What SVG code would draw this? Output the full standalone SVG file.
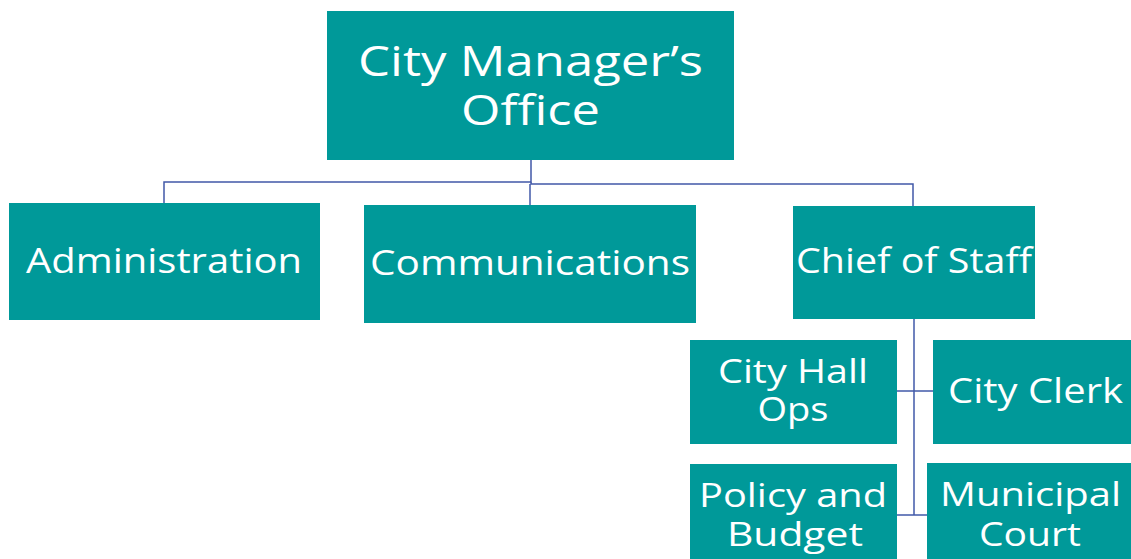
<svg xmlns="http://www.w3.org/2000/svg" width="1131" height="559" viewBox="0 0 1131 559">
<style>
.box{fill:#009999}
.t{fill:#ffffff;font-family:"Open Sans","Noto Sans","DejaVu Sans",sans-serif;font-size:35px;text-anchor:middle}
.s{font-size:33px}
.big{font-size:42px}
.c{fill:none;stroke:#4158a8;stroke-width:1.5}
</style>
<rect width="1131" height="559" fill="#ffffff"/>
<g id="connectors">
<polyline class="c" points="531,160 531,182 164,182 164,203"/>
<polyline class="c" points="531,182 531,184 913,184 913,206"/>
<line class="c" x1="530" y1="184" x2="530" y2="205"/>
<line class="c" x1="914" y1="319" x2="914" y2="515"/>
<line class="c" x1="897" y1="391" x2="933" y2="391"/>
<line class="c" x1="897" y1="515" x2="927" y2="515"/>
</g>
<g id="city-manager">
<rect class="box" x="327" y="11" width="407" height="149"/>
<text class="t big" x="530.5" y="76" textLength="345" lengthAdjust="spacingAndGlyphs">City Manager’s</text>
<text class="t big" x="530.5" y="125" textLength="139" lengthAdjust="spacingAndGlyphs">Office</text>
</g>
<g id="administration">
<rect class="box" x="9" y="203" width="311" height="117"/>
<text class="t" x="164" y="273" textLength="276" lengthAdjust="spacingAndGlyphs">Administration</text>
</g>
<g id="communications">
<rect class="box" x="364" y="205" width="332" height="118"/>
<text class="t" x="530" y="275" textLength="320" lengthAdjust="spacingAndGlyphs">Communications</text>
</g>
<g id="chief-of-staff">
<rect class="box" x="793" y="206" width="242" height="113"/>
<text class="t" x="914" y="273" textLength="236" lengthAdjust="spacingAndGlyphs">Chief of Staff</text>
</g>
<g id="city-hall-ops">
<rect class="box" x="690" y="340" width="207" height="104"/>
<text class="t s" x="793" y="383" textLength="150" lengthAdjust="spacingAndGlyphs">City Hall</text>
<text class="t s" x="793" y="421" textLength="71" lengthAdjust="spacingAndGlyphs">Ops</text>
</g>
<g id="city-clerk">
<rect class="box" x="933" y="340" width="198" height="104"/>
<text class="t" x="1035.5" y="403" textLength="175" lengthAdjust="spacingAndGlyphs">City Clerk</text>
</g>
<g id="policy-budget">
<rect class="box" x="690" y="464" width="207" height="95"/>
<text class="t s" x="793" y="507" textLength="188" lengthAdjust="spacingAndGlyphs">Policy and</text>
<text class="t s" x="795" y="546" textLength="136" lengthAdjust="spacingAndGlyphs">Budget</text>
</g>
<g id="municipal-court">
<rect class="box" x="927" y="463" width="204" height="96"/>
<text class="t s" x="1030.5" y="506" textLength="181" lengthAdjust="spacingAndGlyphs">Municipal</text>
<text class="t s" x="1030" y="546" textLength="102" lengthAdjust="spacingAndGlyphs">Court</text>
</g>
</svg>
